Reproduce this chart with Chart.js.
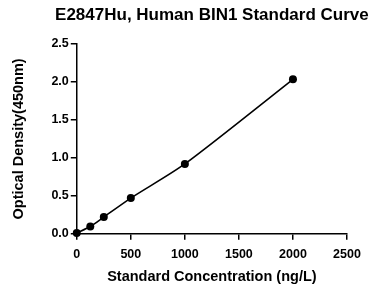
<!DOCTYPE html>
<html><head><meta charset="utf-8">
<script src="https://cdn.jsdelivr.net/npm/chart.js@4"></script>
<style>html,body{margin:0;padding:0;background:#fff}#w{width:374px;height:286px}</style>
</head><body><div id="w"><canvas id="c"></canvas></div>
<script>
const concentrations = [0, 125, 250, 500, 1000, 2000];
const odValues = [0.01, 0.095, 0.22, 0.47, 0.92, 2.035];
const xTicks = [0, 500, 1000, 1500, 2000, 2500];
const yTicks = [0.0, 0.5, 1.0, 1.5, 2.0, 2.5];
const chartTitle = 'E2847Hu, Human BIN1 Standard Curve';

const font = 'Liberation Sans, Arial, sans-serif';

// Title centred over the plot area (may extend past it, like the reference)
const centredTitle = {
  id: 'centredTitle',
  afterDraw(chart) {
    const {ctx, chartArea} = chart;
    ctx.save();
    ctx.fillStyle = '#000';
    ctx.font = 'bold 17px ' + font;
    ctx.textAlign = 'center';
    ctx.textBaseline = 'alphabetic';
    ctx.fillText(chartTitle, (chartArea.left + chartArea.right) / 2, 19.5);
    ctx.restore();
  }
};

new Chart(document.getElementById('c'), {
  type: 'scatter',
  data: {
    datasets: [{
      data: concentrations.map((x, i) => ({x, y: odValues[i]})),
      showLine: true,
      tension: 0.25,
      borderColor: '#000', backgroundColor: '#000',
      borderWidth: 1.6, pointRadius: 4, pointBorderWidth: 0, pointHoverRadius: 4,
      clip: false
    }]
  },
  plugins: [centredTitle],
  options: {
    responsive: true, maintainAspectRatio: false, animation: false,
    layout: {padding: {left: 6, right: 27, top: 44, bottom: 2}},
    plugins: {
      legend: {display: false}, tooltip: {enabled: false}, title: {display: false}
    },
    scales: {
      x: {
        type: 'linear', min: 0, max: 2500,
        afterBuildTicks: a => { a.ticks = xTicks.map(v => ({value: v})); },
        grid: {drawOnChartArea: false, color: '#000', tickLength: 6, lineWidth: 1.5},
        border: {color: '#000', width: 1.5},
        ticks: {color: '#000', font: {family: font, size: 12.5, weight: 'bold', lineHeight: 1.1}, padding: 8, maxRotation: 0, callback: v => String(v)},
        title: {display: true, text: 'Standard Concentration (ng/L)', color: '#000', font: {family: font, size: 14.5, weight: 'bold', lineHeight: 1.0}, padding: {top: 0, bottom: 0}}
      },
      y: {
        type: 'linear', min: 0, max: 2.5,
        afterBuildTicks: a => { a.ticks = yTicks.map(v => ({value: v})); },
        grid: {drawOnChartArea: false, color: '#000', tickLength: 6, lineWidth: 1.5},
        border: {color: '#000', width: 1.5},
        ticks: {color: '#000', font: {family: font, size: 12.5, weight: 'bold'}, padding: 2, callback: v => Number(v).toFixed(1)},
        title: {display: true, text: 'Optical Density(450nm)', color: '#000', font: {family: font, size: 14.5, weight: 'bold'}, padding: {bottom: 22}}
      }
    }
  }
});
</script></body></html>
